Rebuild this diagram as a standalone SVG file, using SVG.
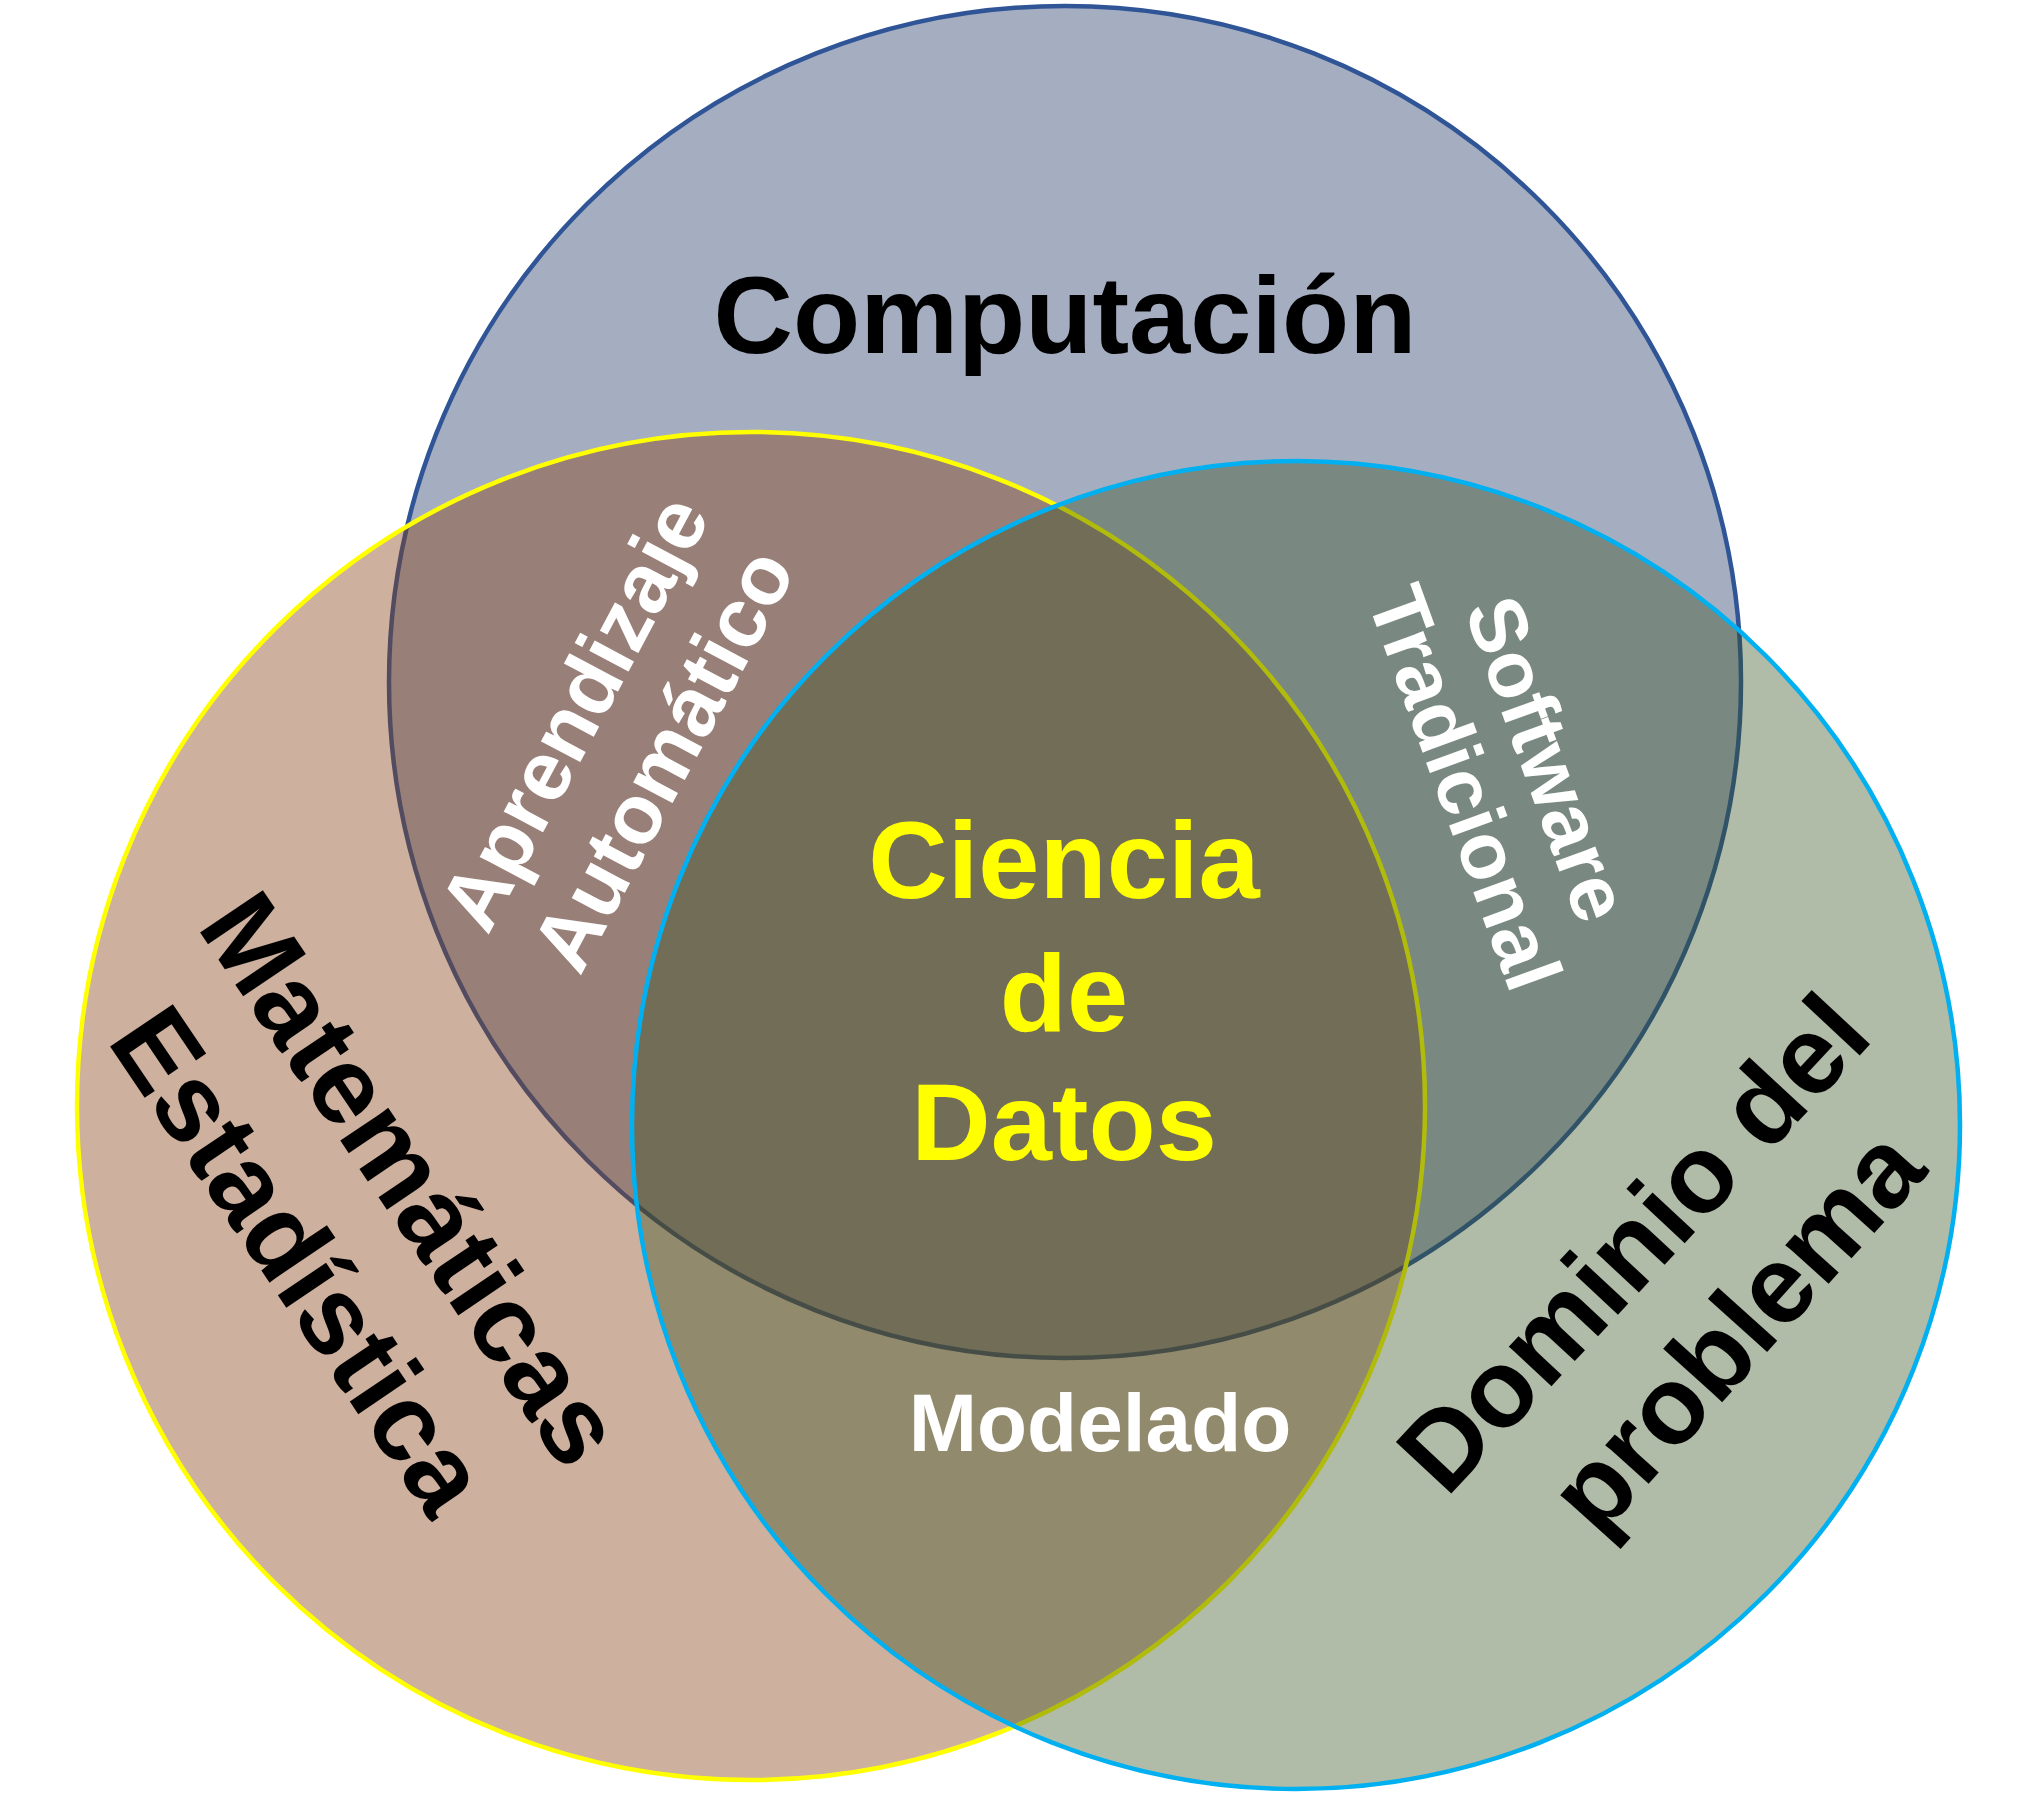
<svg xmlns="http://www.w3.org/2000/svg" width="2035" height="1796" viewBox="0 0 2035 1796">
<style>
text{font-family:"Liberation Sans",Arial,sans-serif;font-weight:bold;text-anchor:middle}
.big{font-size:110px;fill:#000}
.mid{font-size:84px;fill:#fff}
.core{font-size:110px;fill:#FFFF00}
.circ{stroke-width:4.5}
</style>
<rect width="2035" height="1796" fill="#ffffff"/>
<g id="computacion">
<circle class="circ" cx="1065" cy="682" r="676" fill="#A5ADC0" stroke="#2F5597"/>
</g>
<g id="matematicas">
<circle class="circ" cx="751" cy="1106" r="674" fill="#864115" fill-opacity="0.415" stroke="#FFFF00"/>
</g>
<g id="dominio">
<circle class="circ" cx="1296" cy="1125" r="664" fill="#345020" fill-opacity="0.39" stroke="#00B0F0"/>
</g>
<g id="labels">
<text class="big" x="1065" y="353">Computación</text>
<g transform="translate(412,1179) rotate(56)"><text class="big" y="38">Matemáticas</text></g>
<g transform="translate(300,1260) rotate(56)"><text class="big" y="38">Estadística</text></g>
<g transform="translate(1633,1243) rotate(-47)"><text class="big" y="38">Dominio del</text></g>
<g transform="translate(1736,1330) rotate(-48)"><text class="big" y="38">problema</text></g>
<g transform="translate(573,712) rotate(-62)"><text class="mid" y="30">Aprendizaje</text></g>
<g transform="translate(662,759) rotate(-62)"><text class="mid" y="30">Automático</text></g>
<g transform="translate(1550,758) rotate(70)"><text class="mid" y="30" style="font-size:80px">Software</text></g>
<g transform="translate(1467,787) rotate(70)"><text class="mid" y="30" style="font-size:80px">Tradicional</text></g>
<text class="core" x="1064" y="898">Ciencia</text>
<text class="core" x="1064" y="1031">de</text>
<text class="core" x="1064" y="1160">Datos</text>
<text class="mid" x="1100" y="1451" style="font-size:82px">Modelado</text>
</g>
<g id="connectors"/>
</svg>
